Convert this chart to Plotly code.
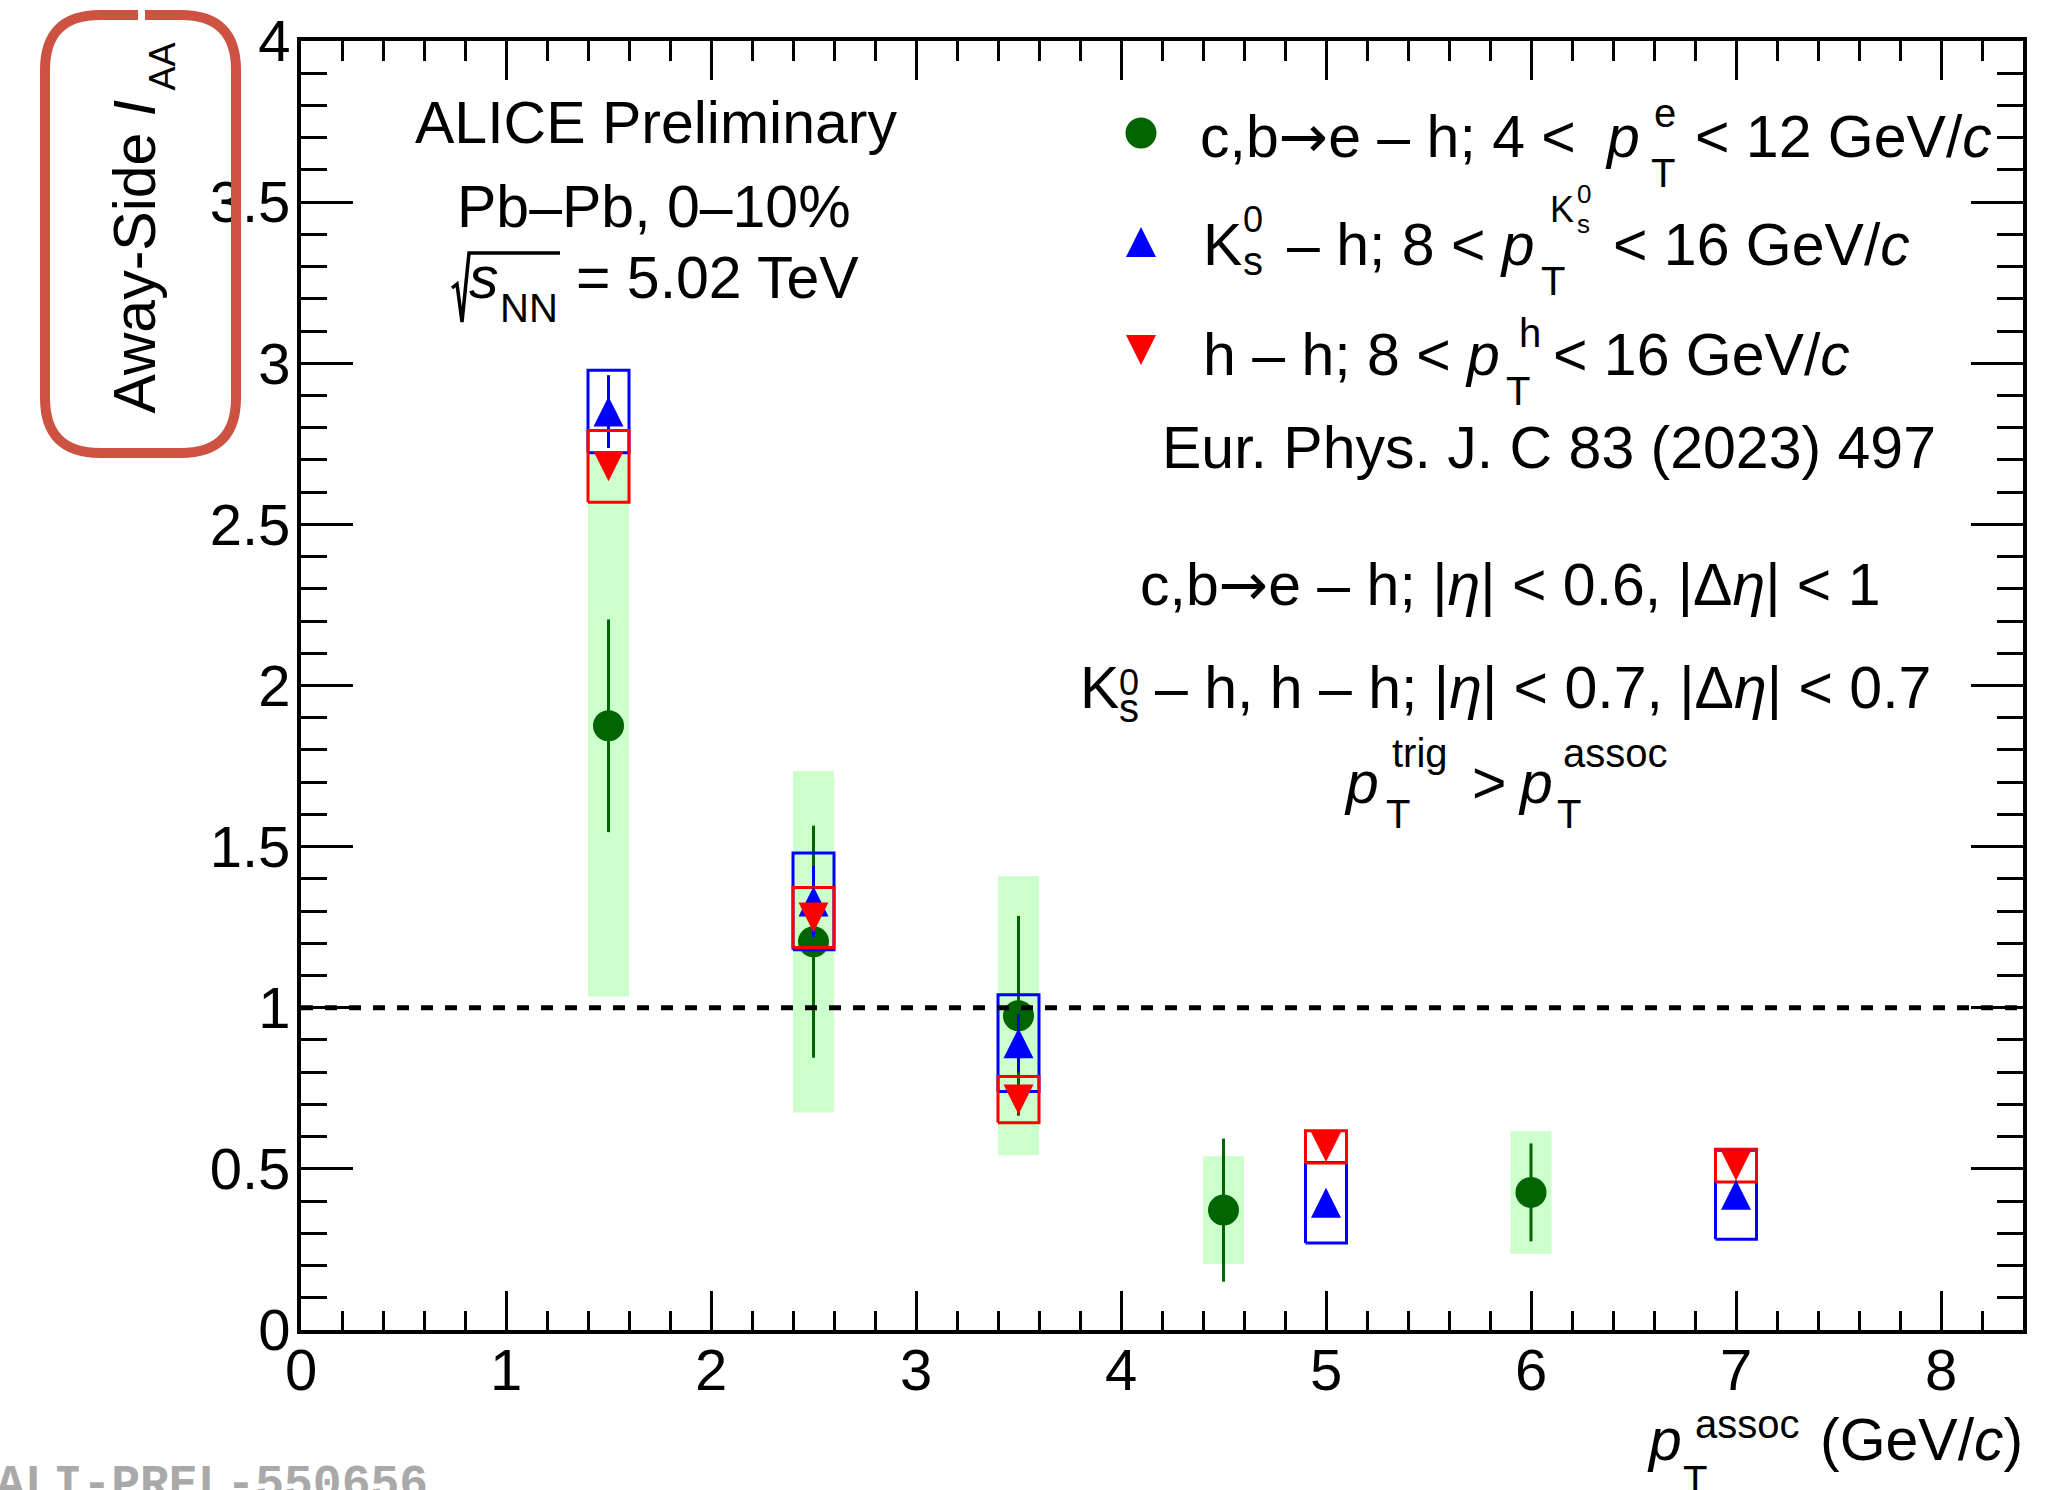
import plotly.graph_objects as go

# ---------------- data ----------------
# c,b -> e - h correlations (heavy-flavour electrons)
hfe_pt = [1.5, 2.5, 3.5, 4.5, 6.0]
hfe_iaa = [1.875, 1.205, 0.975, 0.372, 0.427]
hfe_stat = [0.33, 0.36, 0.31, 0.222, 0.152]
hfe_syst = [0.84, 0.53, 0.433, 0.167, 0.19]

# K0s - h correlations
k0s_pt = [1.5, 2.5, 3.5, 5.0, 7.0]
k0s_iaa = [2.85, 1.33, 0.89, 0.395, 0.42]
k0s_stat = [0.113, 0.11, 0.09, 0.03, 0.03]
k0s_syst = [0.128, 0.15, 0.15, 0.125, 0.138]

# h - h correlations
hh_pt = [1.5, 2.5, 3.5, 5.0, 7.0]
hh_iaa = [2.68, 1.28, 0.715, 0.568, 0.51]
hh_stat = [0.02, 0.02, 0.02, 0.015, 0.015]
hh_syst = [0.111, 0.093, 0.072, 0.05, 0.051]

x_range = [0.0, 8.4]
y_range = [0.0, 4.0]
unity_level = 1.0

# ---------------- page geometry ----------------
W, H = 2069, 1490
PL, PR, PT, PB = 301, 2023, 41, 1330   # plotting area in page pixels
PW, PH = PR - PL, PB - PT

FONT = "Liberation Sans, Arial, Helvetica, sans-serif"
MONO = "Liberation Mono, Courier New, monospace"
GREEN = "#006400"
GREEN_FILL = "#ccffcc"
BLUE = "#0000ff"
RED = "#ff0000"
BOX_HALF_WIDTH = 0.1
ARROW = '<span style="font-family:DejaVu Sans">→</span>'


def box_polygons(xs, ys, errs):
    px, py = [], []
    for x, y, e in zip(xs, ys, errs):
        x0, x1 = x - BOX_HALF_WIDTH, x + BOX_HALF_WIDTH
        px += [x0, x1, x1, x0, x0, None]
        py += [y - e, y - e, y + e, y + e, y - e, None]
    return px, py


def paper(X, Y):
    return (X - PL) / PW, (PB - Y) / PH


annotations = []


def text_at(s, X, base, size, anchor="left", family=FONT, color="black", asc=0.3465):
    x, y = paper(X, base - asc * size)
    annotations.append(dict(
        text=s, x=x, y=y, xref="paper", yref="paper", xanchor=anchor,
        yanchor="middle", showarrow=False, borderpad=0, borderwidth=0,
        font=dict(size=size, color=color, family=family)))


def rotated_text(s, Xc, Yc, size):
    x, y = paper(Xc, Yc)
    annotations.append(dict(
        text=s, x=x, y=y, xref="paper", yref="paper", xanchor="center",
        yanchor="middle", showarrow=False, borderpad=0, borderwidth=0,
        textangle=-90, font=dict(size=size, color="black", family=FONT)))


def rel(X, Y):
    # offset from the top-left corner of the plotting area, y pointing up
    return f"{X - PL:.1f},{PT - Y:.1f}"


fig = go.Figure()

# systematic uncertainty boxes (filled) for c,b -> e - h
gx, gy = box_polygons(hfe_pt, hfe_iaa, hfe_syst)
fig.add_trace(go.Scatter(x=gx, y=gy, mode="lines", fill="toself",
                         fillcolor=GREEN_FILL, line=dict(width=0),
                         hoverinfo="skip"))

# c,b -> e - h points with statistical errors
fig.add_trace(go.Scatter(
    x=hfe_pt, y=hfe_iaa, mode="markers",
    marker=dict(symbol="circle", size=31, color=GREEN, line=dict(width=0)),
    error_y=dict(type="data", array=hfe_stat, color=GREEN, thickness=3, width=0),
    hoverinfo="skip"))

# K0s - h systematic boxes and statistical errors
bx, by = box_polygons(k0s_pt, k0s_iaa, k0s_syst)
fig.add_trace(go.Scatter(x=bx, y=by, mode="lines",
                         line=dict(color=BLUE, width=3), hoverinfo="skip"))
fig.add_trace(go.Scatter(
    x=k0s_pt, y=k0s_iaa, mode="markers",
    marker=dict(size=2, color="rgba(0,0,0,0)"),
    error_y=dict(type="data", array=k0s_stat, color=BLUE, thickness=3, width=0),
    hoverinfo="skip"))

# h - h systematic boxes and statistical errors
rx, ry = box_polygons(hh_pt, hh_iaa, hh_syst)
fig.add_trace(go.Scatter(x=rx, y=ry, mode="lines",
                         line=dict(color=RED, width=3), hoverinfo="skip"))
fig.add_trace(go.Scatter(
    x=hh_pt, y=hh_iaa, mode="markers",
    marker=dict(size=2, color="rgba(0,0,0,0)"),
    error_y=dict(type="data", array=hh_stat, color=RED, thickness=3, width=0),
    hoverinfo="skip"))

shapes = []

# I_AA = 1 reference line
shapes.append(dict(type="line", xref="x", yref="y",
                   x0=x_range[0], x1=x_range[1], y0=unity_level, y1=unity_level,
                   line=dict(color="black", width=5, dash="12px,12px"),
                   layer="above"))

TRI_UP = "M-15,-15 L15,-15 L0,15 Z"
TRI_DOWN = "M-15,15 L15,15 L0,-15 Z"

# triangle markers (ROOT-style, as tall as they are wide)
for x, y in zip(k0s_pt, k0s_iaa):
    shapes.append(dict(type="path", xref="x", yref="y", xsizemode="pixel",
                       ysizemode="pixel", xanchor=x, yanchor=y, path=TRI_UP,
                       fillcolor=BLUE, line=dict(width=0), layer="above"))
for x, y in zip(hh_pt, hh_iaa):
    shapes.append(dict(type="path", xref="x", yref="y", xsizemode="pixel",
                       ysizemode="pixel", xanchor=x, yanchor=y, path=TRI_DOWN,
                       fillcolor=RED, line=dict(width=0), layer="above"))

# legend symbols
lx = paper(1141, 0)[0]
shapes.append(dict(type="circle", xref="paper", yref="paper",
                   xsizemode="pixel", ysizemode="pixel",
                   xanchor=lx, yanchor=paper(0, 133)[1],
                   x0=-15.5, x1=15.5, y0=-15.5, y1=15.5,
                   fillcolor=GREEN, line=dict(width=0), layer="above"))
shapes.append(dict(type="path", xref="paper", yref="paper",
                   xsizemode="pixel", ysizemode="pixel",
                   xanchor=lx, yanchor=paper(0, 242)[1], path=TRI_UP,
                   fillcolor=BLUE, line=dict(width=0), layer="above"))
shapes.append(dict(type="path", xref="paper", yref="paper",
                   xsizemode="pixel", ysizemode="pixel",
                   xanchor=lx, yanchor=paper(0, 350)[1], path=TRI_DOWN,
                   fillcolor=RED, line=dict(width=0), layer="above"))

# square-root sign for sqrt(s_NN)
radical = ("M" + rel(452, 288) + " L" + rel(457, 284) + " L" + rel(462, 322)
           + " L" + rel(469, 253) + " L" + rel(560, 253))
shapes.append(dict(type="path", xref="paper", yref="paper",
                   xsizemode="pixel", ysizemode="pixel", xanchor=0, yanchor=1,
                   path=radical, line=dict(color="black", width=3.5),
                   layer="above"))

# red highlight loop around the y-axis title
Lx, Rx, Ty, By, r = 45, 236, 15, 453, 55
loop = ("M" + rel(145, Ty) + " L" + rel(Rx - r, Ty)
        + " Q" + rel(Rx, Ty) + " " + rel(Rx, Ty + r)
        + " L" + rel(Rx, By - r)
        + " Q" + rel(Rx, By) + " " + rel(Rx - r, By)
        + " L" + rel(Lx + r, By)
        + " Q" + rel(Lx, By) + " " + rel(Lx, By - r)
        + " L" + rel(Lx, Ty + r)
        + " Q" + rel(Lx, Ty) + " " + rel(Lx + r, Ty)
        + " L" + rel(138, Ty))
shapes.append(dict(type="path", xref="paper", yref="paper",
                   xsizemode="pixel", ysizemode="pixel", xanchor=0, yanchor=1,
                   path=loop, line=dict(color="rgb(205,82,66)", width=10),
                   layer="above"))

# ---------------- text ----------------
S, s = 59, 40

text_at("ALICE Preliminary", 656, 143, S, "center")
text_at("Pb–Pb, 0–10%", 654, 227, S, "center")
text_at("<i>s</i>", 469, 298, S)
text_at("NN", 500, 322, s)
text_at("= 5.02 TeV", 576, 298, S)

text_at("c,b" + ARROW + "e – h; 4 <", 1200, 157, S)
text_at("<i>p</i>", 1605, 157, S)
text_at("T", 1651, 187, s)
text_at("e", 1654, 127, s)
text_at("< 12 GeV/<i>c</i>", 1695, 157, S)

text_at("K", 1203, 265, S)
text_at("s", 1243, 275, s)
text_at("0", 1243, 232, 36)
text_at("– h; 8 < <i>p</i>", 1287, 265, S)
text_at("T", 1541, 295, s)
text_at("K", 1550, 222, 36)
text_at("0", 1577, 203, 26)
text_at("s", 1577, 233, 26)
text_at("< 16 GeV/<i>c</i>", 1613, 265, S)

text_at("h – h; 8 < <i>p</i>", 1203, 375, S)
text_at("T", 1506, 405, s)
text_at("h", 1519, 347, s)
text_at("< 16 GeV/<i>c</i>", 1553, 375, S)

text_at("Eur. Phys. J. C 83 (2023) 497", 1549, 468, S, "center")

text_at("c,b" + ARROW + "e – h; |<i>η</i>| < 0.6, |Δ<i>η</i>| < 1",
        1510, 605, S, "center")
text_at("K", 1080, 708, S)
text_at("s", 1119, 722, s)
text_at("0", 1119, 695, 36)
text_at("– h, h – h; |<i>η</i>| < 0.7, |Δ<i>η</i>| < 0.7", 1155, 708, S)
text_at("<i>p</i>", 1344, 803, S)
text_at("T", 1386, 828, s)
text_at("trig", 1392, 767, s)
text_at(">", 1472, 803, S)
text_at("<i>p</i>", 1518, 803, S)
text_at("T", 1557, 828, s)
text_at("assoc", 1563, 767, s)

# axis titles
text_at("<i>p</i>", 1647, 1460, S)
text_at("T", 1683, 1494, s)
text_at("assoc", 1695, 1438, s)
text_at("(GeV/<i>c</i>)", 1820, 1460, S)
rotated_text("Away-Side <i>I</i>", 155 - 0.3465 * S, 257, S)
rotated_text("AA", 175 - 0.3465 * 36, 67, 36)

# preliminary figure id
text_at("<b>ALI-PREL-550656</b>", -4, 1498, 48, family=MONO,
        color="#a9a9a9", asc=0.2665)

axis_common = dict(showline=True, linecolor="black", linewidth=4,
                   mirror="allticks", ticks="inside", tickcolor="black",
                   tickwidth=2.5, showgrid=False, zeroline=False,
                   automargin=False,
                   tickfont=dict(family=FONT, size=58, color="black"))

fig.update_layout(
    width=W, height=H,
    margin=dict(l=PL, r=W - PR, t=PT, b=H - PB, pad=0),
    paper_bgcolor="white", plot_bgcolor="white",
    showlegend=False,
    xaxis=dict(range=x_range, tick0=0, dtick=1, ticklen=39,
               ticklabelstandoff=-14,
               minor=dict(ticks="inside", dtick=0.2, ticklen=19.5,
                          tickwidth=2.5, tickcolor="black"),
               **axis_common),
    yaxis=dict(range=y_range, tick0=0, dtick=0.5, ticklen=52,
               ticklabelstandoff=-5,
               minor=dict(ticks="inside", dtick=0.1, ticklen=26,
                          tickwidth=2.5, tickcolor="black"),
               **axis_common),
    shapes=shapes,
    annotations=annotations,
)

fig.write_html("out.html")
